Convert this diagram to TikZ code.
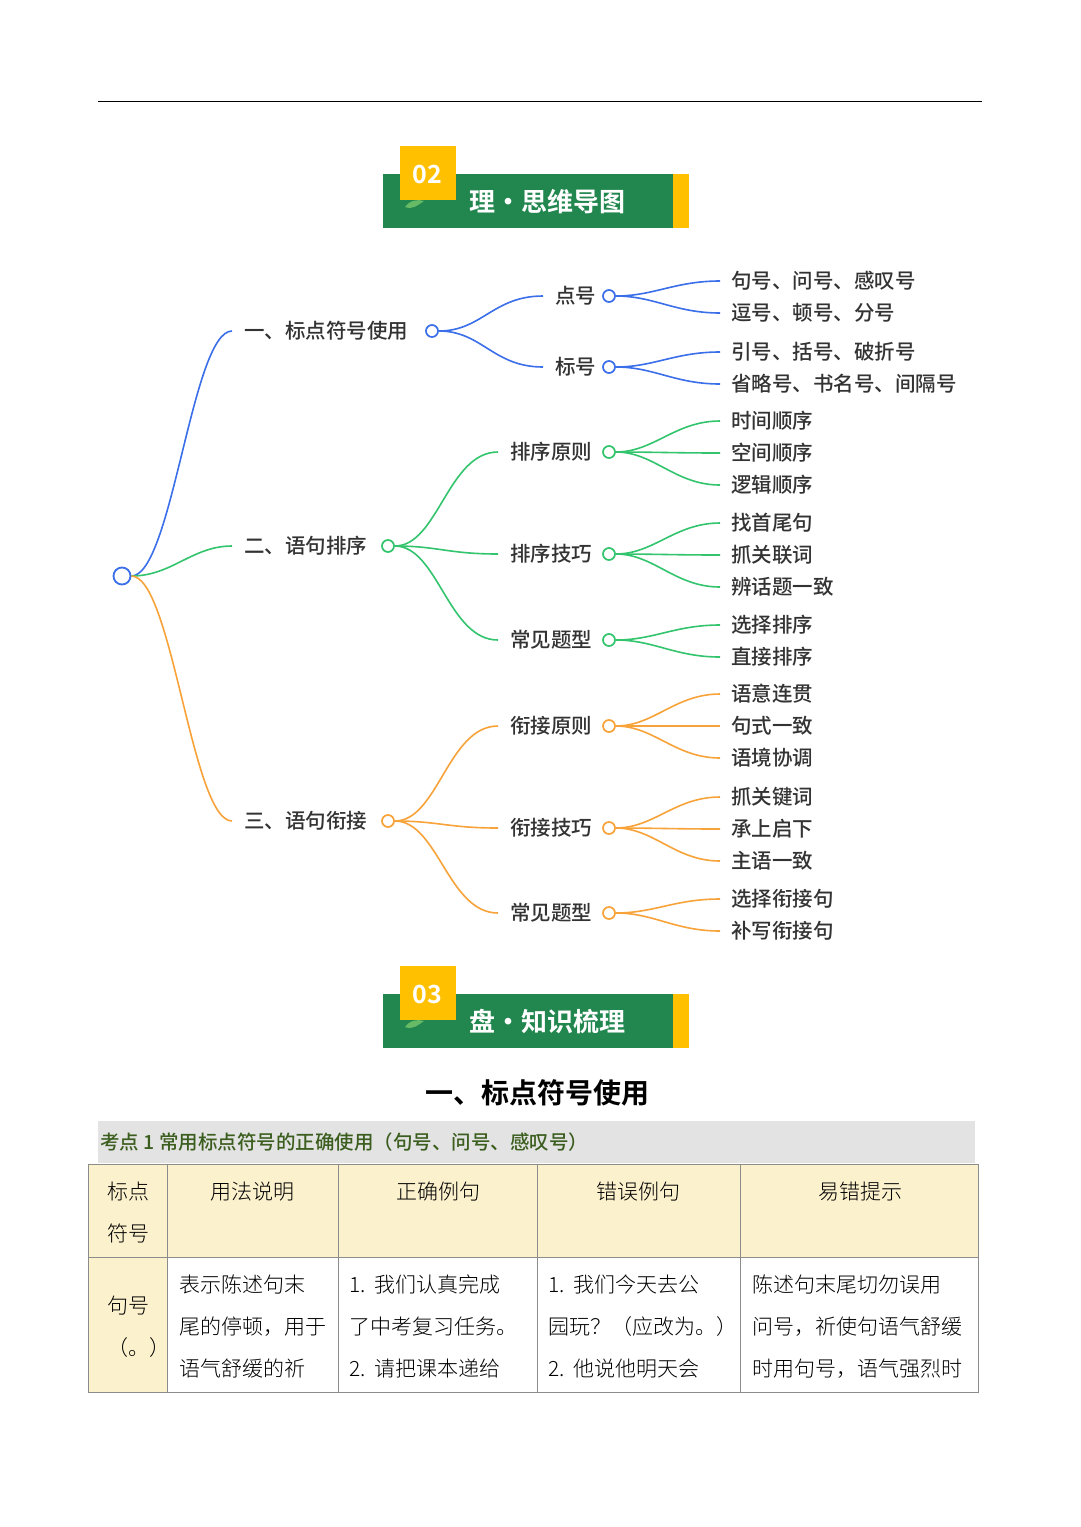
\documentclass[tikz,border=0pt]{standalone}
\usepackage{fontspec}
\setmainfont{Noto Sans CJK SC}
\newfontfamily\cjkb{Noto Sans CJK SC Bold}
\newfontfamily\cjkm{Noto Sans CJK SC Medium}
\newfontfamily\cjkl{Noto Sans CJK SC Light}
\begin{document}
\begin{tikzpicture}[x=1pt,y=-1pt,
 bl/.style={draw=cB,line width=1.6pt},
 gr/.style={draw=cG,line width=1.6pt},
 orn/.style={draw=cO,line width=1.6pt},
 dot/.style={circle,draw,fill=white,line width=1.7pt,inner sep=0pt,minimum size=12pt},
 rdot/.style={circle,draw=cB,fill=white,line width=1.8pt,inner sep=0pt,minimum size=17pt},
 mt/.style={font=\cjkm\fontsize{20.5}{21}\selectfont,text=tx,inner sep=0pt,anchor=west},
 cell/.style={font=\cjkl\fontsize{21}{42}\selectfont,text=black,align=left,anchor=north west,inner sep=0pt},
 band/.style={fill=bgreen,draw=none}]
\definecolor{cB}{HTML}{3B6FEA}
\definecolor{cG}{HTML}{33C46E}
\definecolor{cO}{HTML}{F7A33A}
\definecolor{tx}{HTML}{333333}
\definecolor{bgreen}{HTML}{21874F}
\definecolor{byel}{HTML}{FFC000}
\definecolor{hyel}{HTML}{FCF1CD}
\definecolor{kd}{HTML}{3B5E1E}
\useasboundingbox (0,0) rectangle (1080,1527);
\fill[white] (0,0) rectangle (1080,1527);
\draw[line width=1pt] (98,101) -- (982,101);
% banners
\foreach \dy/\num/\ttl in {0/02/理・思维导图,820/03/盘・知识梳理}{
 \fill[bgreen] (383,174+\dy) rectangle (673,228+\dy);
 \fill[byel] (673,174+\dy) rectangle (689,228+\dy);
 \fill[byel] (400,146+\dy) rectangle (456,200+\dy);
 \fill[green!55!black!60] (405,207+\dy) .. controls (410,200+\dy) and (418,199+\dy) .. (424,201+\dy) .. controls (418,205+\dy) and (413,210+\dy) .. (405,207+\dy);
 \node[text=white,font=\cjkb\fontsize{25}{26}\selectfont] at (427,174+\dy) {\num};
 \node[text=white,font=\cjkb\fontsize{26}{27}\selectfont,anchor=west] at (466,202+\dy) {\ttl};
}
% root
\node[rdot] (r) at (122,576) {};
% level 1
\node[mt] (a) at (244,331) {一、标点符号使用};
\node[mt] (b) at (244,546) {二、语句排序};
\node[mt] (c) at (244,821) {三、语句衔接};
\coordinate (ae) at (232,331); \coordinate (be) at (232,546); \coordinate (ce) at (232,821);
\draw[bl] (r) .. controls +(50,0) and +(-40,0) .. (ae);
\draw[gr] (r) .. controls +(50,0) and +(-40,0) .. (be);
\draw[orn] (r) .. controls +(50,0) and +(-40,0) .. (ce);
\node[dot,draw=cB] (ad) at (432,331) {};
\node[dot,draw=cG] (bd) at (388,546) {};
\node[dot,draw=cO] (cd) at (388,821) {};
% level 2
\node[mt] (a1) at (555,296) {点号}; \node[dot,draw=cB] (a1d) at (609,296) {};
\node[mt] (a2) at (555,367) {标号}; \node[dot,draw=cB] (a2d) at (609,367) {};
\draw[bl] (ad) .. controls +(50,0) and +(-50,0) .. ([xshift=-12pt]a1.west);
\draw[bl] (ad) .. controls +(50,0) and +(-50,0) .. ([xshift=-12pt]a2.west);
\foreach \n/\t/\y in {b1/排序原则/452,b2/排序技巧/554,b3/常见题型/640}{
 \node[mt] (\n) at (510,\y) {\t}; \node[dot,draw=cG] (\n d) at (609,\y) {};
 \draw[gr] (bd) .. controls +(50,0) and +(-50,0) .. ([xshift=-12pt]\n.west);}
\foreach \n/\t/\y in {c1/衔接原则/726,c2/衔接技巧/828,c3/常见题型/913}{
 \node[mt] (\n) at (510,\y) {\t}; \node[dot,draw=cO] (\n d) at (609,\y) {};
 \draw[orn] (cd) .. controls +(50,0) and +(-50,0) .. ([xshift=-12pt]\n.west);}
% leaves
\foreach \p/\st/\t/\y [count=\i] in {a1/bl/句号、问号、感叹号/281,a1/bl/逗号、顿号、分号/313,a2/bl/引号、括号、破折号/352,a2/bl/省略号、书名号、间隔号/384,
 b1/gr/时间顺序/421,b1/gr/空间顺序/453,b1/gr/逻辑顺序/485,b2/gr/找首尾句/523,b2/gr/抓关联词/555,b2/gr/辨话题一致/587,b3/gr/选择排序/625,b3/gr/直接排序/657,
 c1/orn/语意连贯/694,c1/orn/句式一致/726,c1/orn/语境协调/758,c2/orn/抓关键词/797,c2/orn/承上启下/829,c2/orn/主语一致/861,c3/orn/选择衔接句/899,c3/orn/补写衔接句/931}{
 \node[mt] (l\i) at (731,\y) {\t};
 \draw[\st] (\p d) .. controls +(45,0) and +(-45,0) .. ([xshift=-11pt]l\i.west);}
% heading
\node[font=\cjkb\fontsize{28}{29}\selectfont] (h) at (537,1093) {一、标点符号使用};
\fill[black!11] (98,1121) rectangle (975,1163);
\node[font=\cjkm\fontsize{19.5}{20}\selectfont,text=kd,anchor=west,inner sep=0pt] (k) at (100,1142) {考点 1 常用标点符号的正确使用（句号、问号、感叹号）};
% table
\fill[hyel] (88,1164) rectangle (978,1257);
\fill[hyel] (88,1257) rectangle (167,1392);
\draw[black!45,line width=0.8pt] (88,1164) rectangle (978,1392);
\draw[black!45,line width=0.8pt] (88,1257) -- (978,1257);
\foreach \x in {167,338,537,740}{\draw[black!45,line width=0.8pt] (\x,1164) -- (\x,1392);}
\node[cell] (t0) at (107,1182) {标点\\符号};
\node[cell,anchor=north] (t1) at (252,1182) {用法说明};
\node[cell,anchor=north] (t2) at (438,1182) {正确例句};
\node[cell,anchor=north] (t3) at (638,1182) {错误例句};
\node[cell,anchor=north] (t4) at (860,1182) {易错提示};
\node[cell] (u0) at (107,1296) {句号\\（。）};
\node[cell] (u1) at (179,1275) {表示陈述句末\\尾的停顿，用于\\语气舒缓的祈};
\node[cell] (u2) at (349,1275) {1.\ \ 我们认真完成\\了中考复习任务。\\2.\ \ 请把课本递给};
\node[cell] (u3) at (548,1275) {1.\ \ 我们今天去公\\园玩？（应改为。）\\2.\ \ 他说他明天会};
\node[cell] (u4) at (752,1275) {陈述句末尾切勿误用\\问号，祈使句语气舒缓\\时用句号，语气强烈时};
\end{tikzpicture}
\end{document}
